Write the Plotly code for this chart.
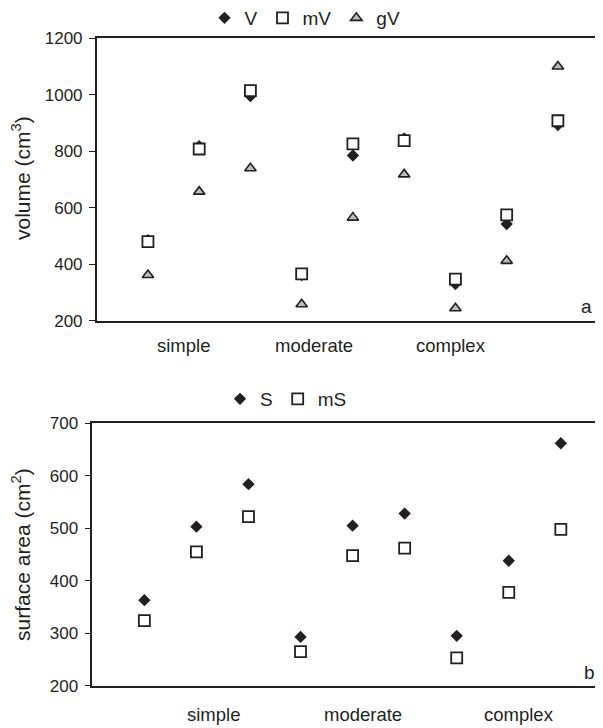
import plotly.graph_objects as go

# ---- data ----
idx = [1, 2, 3, 4, 5, 6, 7, 8, 9]
V = [485, 818, 995, 362, 785, 845, 330, 542, 893]
mV = [480, 808, 1015, 366, 826, 838, 347, 575, 908]
gV = [362, 657, 740, 258, 565, 718, 244, 412, 1100]
S = [363, 503, 584, 293, 505, 528, 295, 438, 662]
mS = [324, 455, 522, 265, 448, 462, 253, 378, 498]
group_labels = ["simple", "moderate", "complex"]
top_label_pos = [1.7, 4.25, 6.92]
bot_label_pos = [2.32, 5.2, 8.2]
vol_ticks = [200, 400, 600, 800, 1000, 1200]
sa_ticks = [200, 300, 400, 500, 600, 700]

# page body has an 8px default margin; lay out in window pixels
OFF = 8
W, H = 603 - OFF, 728 - OFF
FONT = "Liberation Sans, Arial, Helvetica, sans-serif"
INK = "#231f20"

def px_x(p):
    return (p - OFF) / W

def px_y(p):
    return 1 - (p - OFF) / H

fig = go.Figure()

blk = dict(color=INK, width=1.8)
fig.add_trace(go.Scatter(x=idx, y=V, mode="markers", name="V", xaxis="x", yaxis="y",
                         marker=dict(symbol="diamond", size=9.5, color=INK, line=dict(width=0)),
                         legend="legend"))
fig.add_trace(go.Scatter(x=idx, y=mV, mode="markers", name="mV", xaxis="x", yaxis="y",
                         marker=dict(symbol="square", size=11, color="white", line=blk),
                         legend="legend"))
fig.add_trace(go.Scatter(x=idx, y=gV, mode="markers", name="gV", xaxis="x", yaxis="y",
                         marker=dict(symbol="triangle-up", size=10, color="#bdbdbd",
                                     line=dict(color=INK, width=1.6)),
                         legend="legend"))
fig.add_trace(go.Scatter(x=idx, y=S, mode="markers", name="S", xaxis="x2", yaxis="y2",
                         marker=dict(symbol="diamond", size=9.5, color=INK, line=dict(width=0)),
                         legend="legend2"))
fig.add_trace(go.Scatter(x=idx, y=mS, mode="markers", name="mS", xaxis="x2", yaxis="y2",
                         marker=dict(symbol="square", size=11, color="white", line=blk),
                         legend="legend2"))

xcommon = dict(showgrid=False, zeroline=False, showticklabels=False, ticks="",
               showline=True, mirror=True, linecolor=INK, linewidth=2)
ycommon = dict(showgrid=False, zeroline=False, showline=True, linecolor=INK, linewidth=1.5,
               ticks="outside", ticklen=6, tickwidth=1, tickcolor=INK, automargin=False,
               tickfont=dict(family=FONT, size=17, color=INK), ticklabelstandoff=3)

annotations = []
for lab, p in zip(group_labels, top_label_pos):
    annotations.append(dict(x=p, y=px_y(345), xref="x", yref="paper", text=lab, showarrow=False,
                            font=dict(family=FONT, size=18.5, color=INK), xanchor="center", yanchor="middle"))
for lab, p in zip(group_labels, bot_label_pos):
    annotations.append(dict(x=p, y=px_y(714), xref="x2", yref="paper", text=lab, showarrow=False,
                            font=dict(family=FONT, size=18.5, color=INK), xanchor="center", yanchor="middle"))
annotations += [
    dict(x=px_x(21), y=px_y(178), xref="paper", yref="paper", text="volume (cm<sup>3</sup>)",
         textangle=-90, showarrow=False, font=dict(family=FONT, size=21, color=INK),
         xanchor="center", yanchor="middle"),
    dict(x=px_x(21), y=px_y(555), xref="paper", yref="paper", text="surface area (cm<sup>2</sup>)",
         textangle=-90, showarrow=False, font=dict(family=FONT, size=21, color=INK),
         xanchor="center", yanchor="middle"),
    dict(x=px_x(586), y=px_y(306), xref="paper", yref="paper", text="a", showarrow=False,
         font=dict(family=FONT, size=19, color=INK), xanchor="center", yanchor="middle"),
    dict(x=px_x(589), y=px_y(672), xref="paper", yref="paper", text="b", showarrow=False,
         font=dict(family=FONT, size=19, color=INK), xanchor="center", yanchor="middle"),
]

fig.update_layout(
    width=W, height=H, autosize=False,
    margin=dict(l=0, r=0, t=0, b=0, pad=0, autoexpand=False),
    paper_bgcolor="white", plot_bgcolor="white",
    xaxis=dict(domain=[px_x(96.7), 1], range=[0, 9.88], **xcommon),
    yaxis=dict(domain=[px_y(320.7), px_y(38.3)], range=[200, 1200], tickvals=vol_ticks, **ycommon),
    xaxis2=dict(domain=[px_x(92.3), 1], range=[0, 9.81], anchor="y2", **xcommon),
    yaxis2=dict(domain=[px_y(685.7), px_y(423.3)], range=[200, 700], tickvals=sa_ticks,
                anchor="x2", **ycommon),
    legend=dict(orientation="h", x=px_x(305), y=px_y(18), xanchor="center", yanchor="middle",
                font=dict(family=FONT, size=19, color=INK), bgcolor="rgba(0,0,0,0)",
                itemwidth=30),
    legend2=dict(orientation="h", x=px_x(286), y=px_y(399), xanchor="center", yanchor="middle",
                 font=dict(family=FONT, size=19, color=INK), bgcolor="rgba(0,0,0,0)",
                 itemwidth=30),
    annotations=annotations,
    showlegend=True,
)

fig.write_html("out.html")
